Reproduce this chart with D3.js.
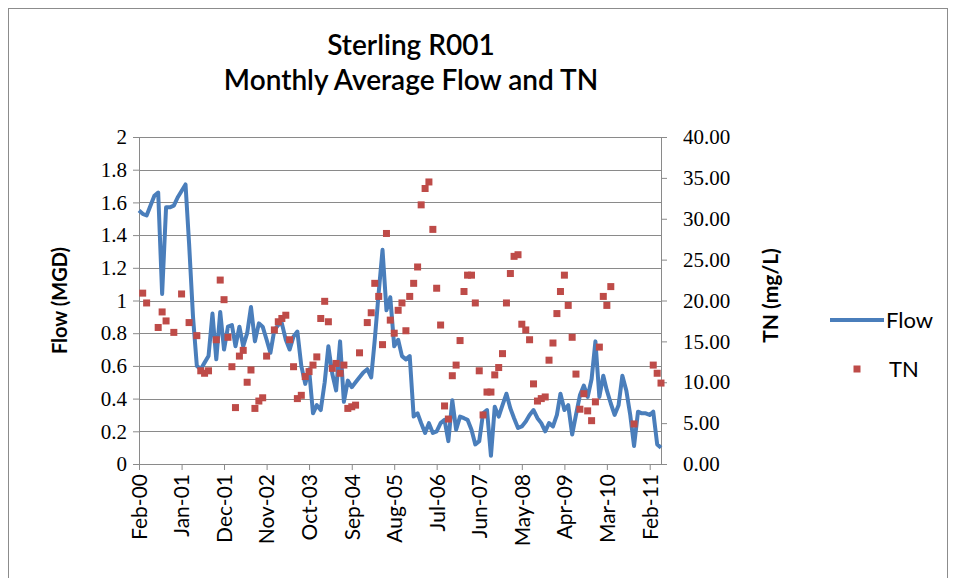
<!DOCTYPE html>
<html>
<head>
<meta charset="utf-8">
<script src="https://cdn.jsdelivr.net/npm/d3@7"></script>
<style>
  body { margin: 0; background: #fff; }
  svg { display: block; }
</style>
</head>
<body>
<svg id="chart"></svg>
<script>
const startMonth = new Date(2000, 1, 1);

// monthly average flow (MGD), Feb-00 onward
const flow = [
  1.55, 1.53, 1.52, 1.58, 1.64, 1.66, 1.04, 1.57, 1.57, 1.58,
  1.63, 1.67, 1.71, 1.35, 0.90, 0.60, 0.58, 0.62, 0.66, 0.92,
  0.64, 0.93, 0.70, 0.84, 0.85, 0.72, 0.84, 0.72, 0.80, 0.96,
  0.75, 0.86, 0.84, 0.76, 0.68, 0.82, 0.85, 0.86, 0.76, 0.70,
  0.78, 0.81, 0.60, 0.49, 0.58, 0.31, 0.36, 0.33, 0.50, 0.72,
  0.55, 0.45, 0.75, 0.38, 0.51, 0.47, 0.50, 0.53, 0.56, 0.58,
  0.53, 0.76, 1.05, 1.31, 0.94, 1.02, 0.72, 0.76, 0.66, 0.64,
  0.66, 0.29, 0.31, 0.25, 0.19, 0.25, 0.19, 0.20, 0.25, 0.27,
  0.14, 0.39, 0.21, 0.29, 0.28, 0.27, 0.21, 0.12, 0.14, 0.31,
  0.33, 0.05, 0.35, 0.29, 0.36, 0.43, 0.34, 0.28, 0.22, 0.23,
  0.26, 0.30, 0.33, 0.28, 0.25, 0.20, 0.25, 0.23, 0.30, 0.43,
  0.33, 0.36, 0.18, 0.30, 0.42, 0.48, 0.41, 0.52, 0.75, 0.41,
  0.54, 0.45, 0.37, 0.30, 0.36, 0.54, 0.45, 0.30, 0.11, 0.32,
  0.31, 0.31, 0.30, 0.32, 0.12, 0.10
];

// monthly TN (mg/L), null where no sample
const tn = [
  null, 20.9, 19.7, null, null, 16.7, 18.6, 17.5, null, 16.1,
  null, 20.8, null, 17.3, null, 15.7, 11.4, 11.1, 11.4, null,
  15.2, 22.5, 20.1, 15.5, 11.9, 6.9, 13.2, 13.9, 10.0, 11.5,
  6.8, 7.7, 8.1, 13.2, null, 16.4, 17.4, 17.8, 18.2, 15.2,
  11.9, 8.0, 8.4, 10.7, 11.3, 12.1, 13.1, 17.8, 19.9, 17.4,
  11.7, 12.3, 11.1, 12.1, 6.8, 7.0, 7.2, 13.6, null, 17.3,
  18.5, 22.1, 20.5, 14.6, 28.2, 17.6, 16.0, 18.8, 19.7, 16.3,
  20.5, 22.1, 24.1, 31.7, 33.7, 34.5, 28.7, 21.5, 17.0, 7.1,
  5.5, 10.8, 12.1, 15.1, 21.1, 23.1, 23.1, 19.7, 11.4, 6.0,
  8.8, 8.8, 10.9, 11.8, 13.5, 19.7, 23.3, 25.4, 25.6, 17.1,
  16.4, 15.2, 9.8, 7.7, 8.0, 8.2, 12.7, 14.8, 18.4, 21.1,
  23.1, 19.4, 15.5, 11.0, 6.7, 8.6, 6.5, 5.3, 7.6, 14.3,
  20.5, 19.4, 21.7, null, null, null, null, null, 4.9, null,
  null, null, null, 12.1, 11.1, 9.9
];

const flowTicks = [0, 0.2, 0.4, 0.6, 0.8, 1, 1.2, 1.4, 1.6, 1.8, 2];
const tnTicks = [0, 5, 10, 15, 20, 25, 30, 35, 40];
const monthTicks = [0, 11, 22, 33, 44, 55, 66, 77, 88, 99, 110, 121, 132];

const width = 956, height = 578;
const margin = { top: 137, right: 295, bottom: 114, left: 139 };
const innerW = width - margin.left - margin.right;
const innerH = height - margin.top - margin.bottom;

const sansFont = "Lato, 'Open Sans', sans-serif";
const serifFont = "'Liberation Serif', 'DejaVu Serif', serif";

const svg = d3.select('#chart')
  .attr('width', width)
  .attr('height', height);

svg.append('rect')
  .attr('x', 8.5).attr('y', 8.5)
  .attr('width', 939).attr('height', 575)
  .attr('fill', '#fff')
  .attr('stroke', '#8c8c8c');

const dates = flow.map((d, i) => d3.timeMonth.offset(startMonth, i));

const x = d3.scaleTime()
  .domain([dates[0], dates[dates.length - 1]])
  .range([0, innerW]);
const yFlow = d3.scaleLinear().domain([0, 2]).range([innerH, 0]);
const yTN = d3.scaleLinear().domain([0, 40]).range([innerH, 0]);

const g = svg.append('g')
  .attr('transform', `translate(${margin.left},${margin.top})`);

// gridlines
g.selectAll('.grid')
  .data(flowTicks.slice(1))
  .enter()
  .append('line')
  .attr('class', 'grid')
  .attr('x1', 0).attr('x2', innerW)
  .attr('y1', d => Math.round(yFlow(d)) + 0.5)
  .attr('y2', d => Math.round(yFlow(d)) + 0.5)
  .attr('stroke', '#8a8a8a')
  .attr('stroke-width', 1);

const axisColor = '#8a8a8a';

const leftAxis = d3.axisLeft(yFlow)
  .tickValues(flowTicks)
  .tickFormat(d => d3.format('~g')(d))
  .tickSizeInner(6).tickSizeOuter(0).tickPadding(6);
const gl = g.append('g').call(leftAxis);
gl.selectAll('text')
  .attr('font-family', serifFont)
  .attr('font-size', 21).attr('fill', '#000');

const rightAxis = d3.axisRight(yTN)
  .tickValues(tnTicks)
  .tickFormat(d3.format('.2f'))
  .tickSizeInner(6).tickSizeOuter(0).tickPadding(16);
const gr = g.append('g')
  .attr('transform', `translate(${innerW},0)`)
  .call(rightAxis);
gr.selectAll('text')
  .attr('font-family', serifFont)
  .attr('font-size', 21).attr('fill', '#000');

const bottomAxis = d3.axisBottom(x)
  .tickValues(monthTicks.map(i => dates[i]))
  .tickFormat(d3.timeFormat('%b-%y'))
  .tickSizeInner(6).tickSizeOuter(0);
const gb = g.append('g')
  .attr('transform', `translate(0,${innerH})`)
  .call(bottomAxis);
gb.selectAll('text')
  .attr('font-family', sansFont)
  .attr('font-size', 21).attr('fill', '#000')
  .attr('text-anchor', 'end')
  .attr('transform', 'rotate(-90)')
  .attr('x', -10).attr('y', 0).attr('dy', '0.35em');

[gl, gr, gb].forEach(a => {
  a.selectAll('.domain').attr('stroke', axisColor);
  a.selectAll('.tick line').attr('stroke', axisColor);
});

// flow line
const line = d3.line()
  .x((d, i) => x(dates[i]))
  .y(d => yFlow(d));

g.append('path')
  .datum(flow)
  .attr('d', line)
  .attr('fill', 'none')
  .attr('stroke', '#4a7ebb')
  .attr('stroke-width', 4)
  .attr('stroke-linejoin', 'round');

// TN markers
const sq = 7;
g.selectAll('.tn')
  .data(tn.map((v, i) => ({ v, i })).filter(d => d.v !== null))
  .enter()
  .append('rect')
  .attr('class', 'tn')
  .attr('x', d => x(dates[d.i]) - sq / 2)
  .attr('y', d => yTN(d.v) - sq / 2)
  .attr('width', sq).attr('height', sq)
  .attr('fill', '#be4b48');

// titles
const title = svg.append('text')
  .attr('x', 411).attr('text-anchor', 'middle')
  .attr('font-family', sansFont)
  .attr('font-size', 28).attr('font-weight', 600)
  .attr('fill', '#000');
title.append('tspan').attr('x', 411).attr('y', 55).text('Sterling R001');
title.append('tspan').attr('x', 411).attr('y', 90).text('Monthly Average Flow and TN');

svg.append('text')
  .attr('transform', `translate(67,${margin.top + innerH / 2}) rotate(-90)`)
  .attr('text-anchor', 'middle')
  .attr('font-family', sansFont)
  .attr('font-size', 20).attr('font-weight', 'bold')
  .text('Flow (MGD)');

svg.append('text')
  .attr('transform', `translate(778,${margin.top + innerH / 2 - 5}) rotate(-90)`)
  .attr('text-anchor', 'middle')
  .attr('font-family', sansFont)
  .attr('font-size', 21).attr('font-weight', 'bold')
  .text('TN (mg/L)');

// legend
const legend = svg.append('g').attr('transform', 'translate(830,320)');
legend.append('line')
  .attr('x1', 0).attr('x2', 54).attr('y1', 0).attr('y2', 0)
  .attr('stroke', '#4a7ebb').attr('stroke-width', 4);
legend.append('text')
  .attr('x', 56).attr('y', 0).attr('dy', '0.35em')
  .attr('font-family', sansFont)
  .attr('font-size', 22).text('Flow');
legend.append('rect')
  .attr('x', 27 - sq / 2).attr('y', 49 - sq / 2)
  .attr('width', sq).attr('height', sq)
  .attr('fill', '#be4b48');
legend.append('text')
  .attr('x', 59).attr('y', 49).attr('dy', '0.35em')
  .attr('font-family', sansFont)
  .attr('font-size', 22).text('TN');
</script>
</body>
</html>
